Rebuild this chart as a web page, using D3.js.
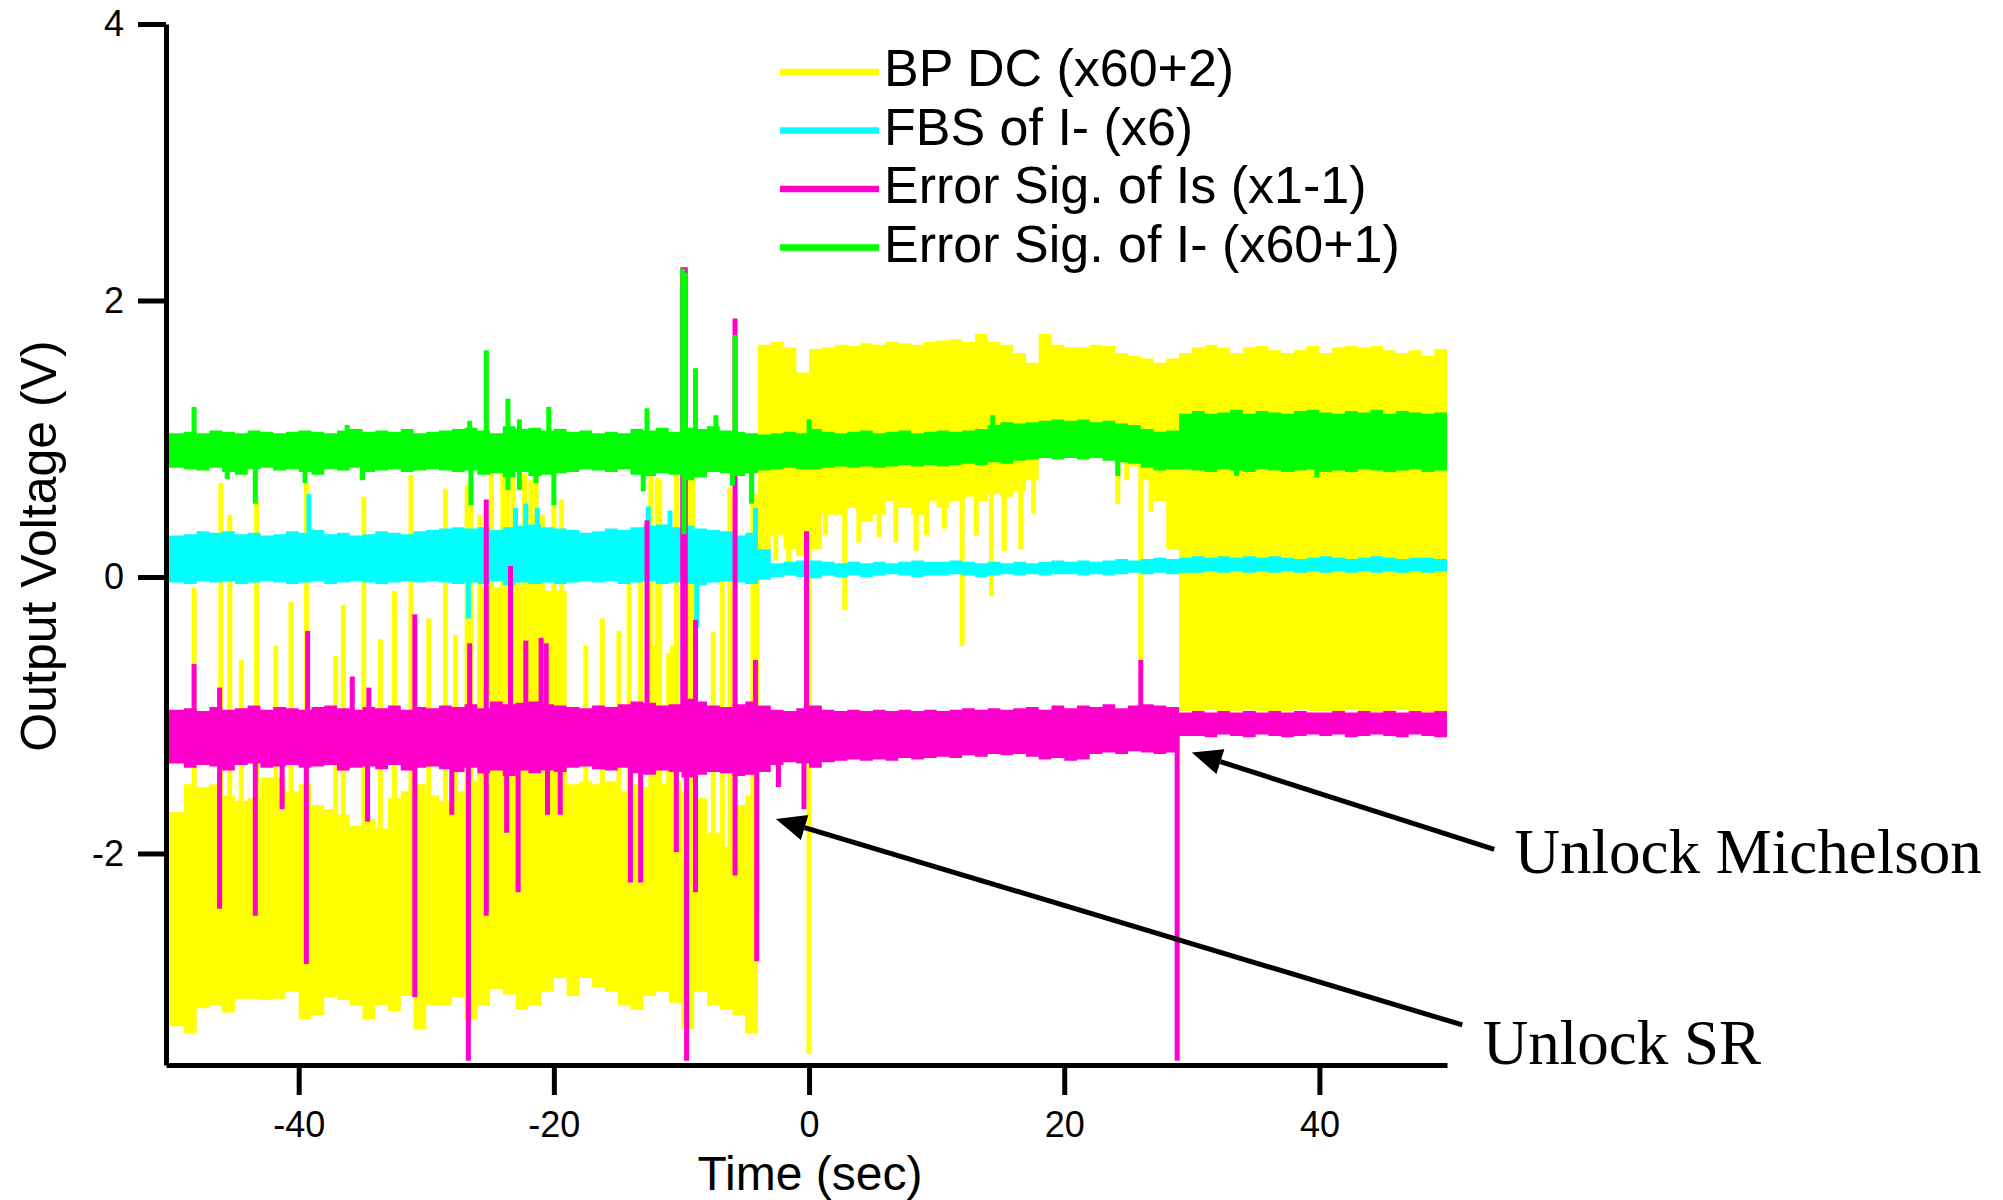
<!DOCTYPE html>
<html>
<head>
<meta charset="utf-8">
<script src="https://cdn.jsdelivr.net/npm/d3@7"></script>
<style>
  body { margin: 0; background: #fff; }
  svg { display: block; }
</style>
</head>
<body>
<svg id="chart" width="2003" height="1200"></svg>
<script>
// one-second bins, start time of each bin (sec)
var bins = d3.range(-50, 50, 1);

// BP DC (x60+2) envelope
var bpHi = [-1.7,-1.5,-1.52,-1.5,-1.58,-1.62,-1.6,-1.45,-1.45,-1.55,
  -1.5,-1.65,-1.68,-1.72,-1.8,-1.75,-1.82,-1.6,-1.55,-1.5,
  -1.58,-1.62,-1.55,-1.48,-0.08,-0.08,-0.06,-0.05,-0.05,-0.1,
  -0.1,-1.5,-1.48,-1.5,-1.48,-1.55,-1.5,-1.52,-1.5,-1.48,
  -1.55,-1.6,-1.85,-1.95,-1.65,-1.58,1.68,1.7,1.66,1.48,
  1.65,1.66,1.68,1.67,1.69,1.68,1.7,1.69,1.68,1.7,
  1.71,1.72,1.7,1.76,1.7,1.68,1.62,1.55,1.76,1.68,
  1.66,1.66,1.68,1.67,1.62,1.6,1.58,1.55,1.58,1.62,
  1.66,1.68,1.66,1.62,1.66,1.67,1.64,1.62,1.64,1.67,
  1.62,1.66,1.67,1.66,1.67,1.64,1.62,1.64,1.6,1.65];
var bpLo = [-3.25,-3.3,-3.12,-3.1,-3.15,-3.05,-3.05,-3.06,-3.05,-3.0,
  -3.2,-3.17,-3.04,-3.06,-3.1,-3.2,-3.1,-3.14,-3.03,-3.27,
  -3.1,-3.1,-3.04,-3.2,-3.1,-2.98,-3.02,-3.13,-3.1,-3.0,
  -2.9,-3.03,-2.9,-2.97,-3.0,-3.1,-3.13,-3.03,-3.0,-3.08,
  -3.27,-3.0,-3.1,-3.13,-3.17,-3.3,0.15,0.3,0.2,0.15,
  0.2,0.45,0.45,0.5,0.4,0.45,0.55,0.5,0.45,0.55,
  0.5,0.55,0.58,0.55,0.6,0.58,0.62,0.7,0.88,0.88,
  0.88,0.88,0.88,0.88,0.88,0.8,0.7,0.55,0.2,-0.97,
  -0.97,-0.96,-0.98,-0.97,-0.96,-0.97,-0.98,-0.97,-0.96,-0.97,
  -0.97,-0.98,-0.96,-0.97,-0.98,-0.97,-0.96,-0.97,-0.98,-0.97];
// [time, extreme value] of single-sample excursions
var bpSpikes = [[-48.2,-0.08],[-46.1,0.68],[-45.4,0.45],[-44.5,-0.6],[-43.3,0.55],
  [-41.8,-0.5],[-40.6,-0.18],[-39.4,0.68],[-37.1,-0.57],[-36.5,-0.2],[-34.9,0.58],
  [-33.6,-0.45],[-32.5,-0.1],[-31.2,0.74],[-29.8,-0.3],[-28.5,0.64],
  [-27.7,-0.42],[-26.8,0.66],[-26.5,0.6],[-25.8,0.45],[-24.9,0.75],[-24.0,0.75],
  [-23.6,0.72],[-23.2,0.75],[-22.3,0.75],[-21.8,0.7],[-21.4,0.74],[-20.9,0.45],
  [-20.0,0.56],[-19.4,0.56],[-17.5,-0.5],[-16.2,-0.3],[-14.9,-0.39],[-14.1,-0.05],
  [-13.2,-0.02],[-12.4,0.75],[-12.2,-0.5],[-11.9,0.72],[-11.7,0.7],[-11.0,-0.55],
  [-10.7,-0.5],[-10.4,0.74],[-9.4,0.7],[-9.1,0.74],[-7.5,-0.4],[-6.8,0.2],
  [-6.2,0.65],[-5.8,0.6],[-4.4,0.53],[-4.1,0.6],
  [-2.6,0.12],[-1.6,0.1],[0.0,-3.45],[1.3,0.3],[2.8,-0.24],[3.9,0.25],[5.5,0.29],
  [6.8,0.25],[8.4,0.19],[9.2,0.3],[10.6,0.35],[12.0,-0.5],[13.1,0.3],[14.3,-0.14],
  [15.3,0.19],[16.6,0.2],[17.6,0.46],[24.2,0.53],[24.9,0.7],[26.0,-0.6],[26.8,0.47]];

// FBS of I- (x6)
var fbsHi = [0.30,0.31,0.33,0.32,0.33,0.31,0.32,0.30,0.31,0.33,
  0.32,0.34,0.31,0.32,0.30,0.31,0.33,0.32,0.31,0.33,
  0.34,0.35,0.36,0.35,0.36,0.34,0.36,0.37,0.38,0.36,
  0.35,0.34,0.32,0.33,0.35,0.34,0.36,0.37,0.38,0.36,
  0.37,0.35,0.34,0.33,0.30,0.32,0.2,0.10,0.11,0.12,
  0.12,0.11,0.10,0.11,0.10,0.11,0.10,0.11,0.12,0.11,
  0.11,0.12,0.11,0.10,0.11,0.10,0.11,0.10,0.11,0.12,
  0.11,0.12,0.11,0.12,0.13,0.12,0.13,0.14,0.13,0.14,
  0.15,0.14,0.15,0.14,0.15,0.14,0.15,0.14,0.13,0.14,
  0.15,0.14,0.13,0.14,0.15,0.14,0.13,0.14,0.14,0.13];
var fbsLo = [-0.04,-0.05,-0.03,-0.04,-0.03,-0.05,-0.04,-0.03,-0.04,-0.05,
  -0.04,-0.03,-0.05,-0.04,-0.03,-0.04,-0.05,-0.04,-0.03,-0.04,
  -0.03,-0.04,-0.05,-0.04,-0.05,-0.03,-0.06,-0.04,-0.05,-0.04,
  -0.05,-0.04,-0.03,-0.04,-0.03,-0.05,-0.04,-0.03,-0.05,-0.04,
  -0.05,-0.06,-0.04,-0.03,-0.04,-0.05,-0.02,0.0,0.01,0.0,
  -0.01,0.01,0.0,0.01,0.0,0.01,0.02,0.01,0.0,0.01,
  0.01,0.02,0.01,0.0,0.01,0.02,0.01,0.02,0.01,0.02,
  0.02,0.01,0.02,0.01,0.02,0.03,0.02,0.03,0.02,0.03,
  0.03,0.04,0.03,0.04,0.03,0.04,0.03,0.04,0.03,0.04,
  0.03,0.04,0.03,0.04,0.03,0.04,0.03,0.04,0.03,0.04];
var fbsSpikes = [[-39.2,0.6],[-26.7,-0.3],[-23.0,0.5],[-22.2,0.53],[-21.3,0.5],
  [-12.6,0.51],[-10.9,0.48],[-8.8,-0.37],[-4.2,0.5]];

// Error Sig. of Is (x1-1)
var errIsHi = [-0.96,-0.95,-0.97,-0.94,-0.96,-0.95,-0.93,-0.96,-0.94,-0.95,
  -0.96,-0.94,-0.93,-0.95,-0.96,-0.94,-0.95,-0.93,-0.96,-0.94,
  -0.95,-0.93,-0.94,-0.92,-0.95,-0.9,-0.92,-0.91,-0.9,-0.92,
  -0.93,-0.94,-0.95,-0.93,-0.94,-0.92,-0.9,-0.91,-0.93,-0.92,
  -0.88,-0.9,-0.93,-0.94,-0.92,-0.9,-0.93,-0.96,-0.97,-0.95,
  -0.93,-0.96,-0.97,-0.96,-0.97,-0.96,-0.97,-0.96,-0.97,-0.96,
  -0.97,-0.96,-0.95,-0.96,-0.95,-0.96,-0.95,-0.94,-0.96,-0.93,
  -0.95,-0.93,-0.94,-0.92,-0.95,-0.93,-0.92,-0.93,-0.94,-0.98,
  -0.97,-0.98,-0.97,-0.98,-0.97,-0.98,-0.97,-0.98,-0.97,-0.98,
  -0.98,-0.97,-0.98,-0.97,-0.98,-0.97,-0.98,-0.97,-0.98,-0.97];
var errIsLo = [-1.35,-1.38,-1.36,-1.37,-1.4,-1.36,-1.35,-1.38,-1.37,-1.36,
  -1.38,-1.37,-1.36,-1.4,-1.38,-1.37,-1.39,-1.36,-1.4,-1.38,
  -1.37,-1.39,-1.41,-1.38,-1.42,-1.4,-1.44,-1.4,-1.42,-1.4,
  -1.41,-1.38,-1.37,-1.39,-1.4,-1.38,-1.42,-1.43,-1.4,-1.41,
  -1.45,-1.43,-1.41,-1.42,-1.44,-1.43,-1.41,-1.36,-1.34,-1.35,
  -1.38,-1.34,-1.33,-1.32,-1.33,-1.32,-1.33,-1.31,-1.32,-1.31,
  -1.3,-1.31,-1.29,-1.3,-1.28,-1.29,-1.28,-1.3,-1.32,-1.31,
  -1.33,-1.32,-1.28,-1.27,-1.28,-1.26,-1.27,-1.28,-1.27,-1.15,
  -1.15,-1.16,-1.14,-1.15,-1.16,-1.14,-1.15,-1.16,-1.15,-1.14,
  -1.15,-1.14,-1.16,-1.15,-1.14,-1.15,-1.16,-1.14,-1.15,-1.16];
var errIsSpikes = [[-48.2,-0.63],[-46.2,-0.8],[-39.3,-0.39],[-35.8,-0.72],[-34.5,-0.8],
  [-30.9,-0.27],[-26.6,-0.48],[-25.3,0.56],[-23.4,0.08],[-22.2,-0.46],[-21.0,-0.44],
  [-20.6,-0.48],[-12.7,0.41],[-9.9,2.24],[-9.7,2.24],[-8.9,-0.31],[-5.8,1.87],
  [-4.2,-0.6],[-0.2,0.33],[26.0,-0.6],
  [-46.2,-2.40],[-43.4,-2.45],[-41.3,-1.68],[-39.4,-2.80],[-34.6,-1.77],[-30.9,-3.04],
  [-28.0,-1.72],[-26.7,-3.5],[-25.3,-2.45],[-23.7,-1.85],[-22.8,-2.28],[-20.5,-1.72],
  [-19.5,-1.72],[-14.0,-2.21],[-13.2,-2.21],[-10.4,-1.99],[-9.6,-3.5],[-8.9,-2.28],
  [-5.8,-2.16],[-4.1,-2.78],[-2.4,-1.52],[-0.4,-1.68],[28.85,-3.5]];

// Error Sig. of I- (x60+1)
var errImHi = [1.04,1.05,1.04,1.06,1.05,1.04,1.06,1.05,1.04,1.05,
  1.06,1.05,1.04,1.06,1.07,1.05,1.06,1.05,1.07,1.04,
  1.05,1.06,1.07,1.08,1.06,1.04,1.09,1.07,1.08,1.06,
  1.07,1.05,1.06,1.04,1.05,1.04,1.07,1.06,1.08,1.05,
  1.08,1.07,1.09,1.06,1.05,1.04,1.03,1.04,1.05,1.04,
  1.07,1.05,1.04,1.05,1.06,1.04,1.05,1.06,1.04,1.05,
  1.06,1.05,1.06,1.07,1.10,1.12,1.11,1.12,1.13,1.14,
  1.13,1.14,1.12,1.13,1.11,1.10,1.07,1.05,1.06,1.18,
  1.20,1.18,1.19,1.21,1.18,1.2,1.19,1.18,1.2,1.21,
  1.19,1.18,1.2,1.19,1.21,1.18,1.2,1.19,1.18,1.19];
var errImLo = [0.79,0.78,0.77,0.79,0.76,0.74,0.78,0.79,0.77,0.78,
  0.76,0.74,0.78,0.77,0.79,0.76,0.77,0.78,0.76,0.77,
  0.78,0.77,0.76,0.77,0.74,0.75,0.72,0.76,0.73,0.74,
  0.75,0.76,0.78,0.77,0.76,0.78,0.74,0.73,0.75,0.74,
  0.70,0.72,0.76,0.75,0.73,0.75,0.77,0.78,0.79,0.78,
  0.78,0.79,0.8,0.79,0.8,0.79,0.8,0.81,0.8,0.81,
  0.8,0.81,0.82,0.81,0.83,0.82,0.84,0.85,0.86,0.85,
  0.86,0.85,0.86,0.84,0.83,0.82,0.79,0.77,0.78,0.78,
  0.77,0.76,0.78,0.77,0.76,0.78,0.77,0.76,0.77,0.78,
  0.76,0.77,0.76,0.78,0.77,0.76,0.77,0.78,0.76,0.77];
var errImSpikes = [[-48.2,1.23],[-36.2,1.1],[-26.6,1.13],[-25.3,1.64],[-23.6,1.29],
  [-22.7,1.14],[-20.4,1.23],[-12.7,1.22],[-9.9,2.23],[-9.7,2.2],[-8.9,1.51],
  [-7.3,1.17],[-5.8,1.75],[0.0,1.14],[14.4,1.17],
  [-45.6,0.71],[-43.4,0.53],[-39.5,0.68],[-35.0,0.7],[-26.5,0.52],[-23.6,0.63],
  [-22.7,0.63],[-21.4,0.68],[-20.0,0.52],[-13.0,0.62],[-9.8,0.31],[-6.0,0.66],
  [-4.5,0.53],[24.2,0.73],[33.5,0.73],[39.8,0.72]];

var legendLabels = ["BP DC (x60+2)", "FBS of I- (x6)", "Error Sig. of Is (x1-1)", "Error Sig. of I- (x60+1)"];
var colors = ["#ffff00", "#00ffff", "#ff00cc", "#00ff00"];
var xTicks = [-40, -20, 0, 20, 40];
var yTicks = [-2, 0, 2, 4];

var sans = "'Liberation Sans', Arial, sans-serif";
var serif = "'Liberation Serif', 'Times New Roman', serif";

var svg = d3.select("#chart");
var x = d3.scaleLinear().domain([-50.4, 50]).range([166, 1447]);
var y = d3.scaleLinear().domain([-3.53, 4]).range([1065, 24]);

var plot = svg.append("g");

function drawSeries(lo, hi, spikes, color) {
  var g = plot.append("g");
  var rows = bins.map(function(t, i) { return {t: t, lo: lo[i], hi: hi[i]}; });
  rows.push({t: 50, lo: lo[lo.length - 1], hi: hi[hi.length - 1]});
  var area = d3.area()
    .curve(d3.curveStepAfter)
    .x(function(d, i) { return i == 0 ? x.range()[0] : x(d.t); })
    .y0(function(d) { return y(d.lo); })
    .y1(function(d) { return y(d.hi); });
  g.append("path").attr("d", area(rows)).attr("fill", color);

  g.selectAll("line")
    .data(spikes)
    .enter()
    .append("line")
    .attr("x1", function(d) { return x(d[0]); })
    .attr("x2", function(d) { return x(d[0]); })
    .attr("y1", function(d) {
      var i = Math.max(0, Math.min(bins.length - 1, Math.floor(d[0]) + 50));
      return y((lo[i] + hi[i]) / 2);
    })
    .attr("y2", function(d) { return y(d[1]); })
    .attr("stroke", color)
    .attr("stroke-width", 5);
}

drawSeries(bpLo, bpHi, bpSpikes, colors[0]);
drawSeries(fbsLo, fbsHi, fbsSpikes, colors[1]);
drawSeries(errIsLo, errIsHi, errIsSpikes, colors[2]);
drawSeries(errImLo, errImHi, errImSpikes, colors[3]);

// axes
var yAxis = d3.axisLeft(y).tickValues(yTicks).tickSize(28).tickSizeOuter(0).tickPadding(14)
  .tickFormat(function(d) { return String(d); });
var gy = svg.append("g").attr("transform", "translate(166,0)").call(yAxis);

var xAxis = d3.axisBottom(x).tickValues(xTicks).tickSize(30).tickSizeOuter(0).tickPadding(16)
  .tickFormat(function(d) { return String(d); });
var gx = svg.append("g").attr("transform", "translate(0,1065)").call(xAxis);

[gx, gy].forEach(function(g) {
  g.select(".domain").attr("stroke", "#000").attr("stroke-width", 5);
  g.selectAll(".tick line").attr("stroke", "#000").attr("stroke-width", 5);
  g.selectAll(".tick text").attr("font-family", sans).attr("font-size", 36).attr("fill", "#000");
});

svg.append("text")
  .attr("x", 810).attr("y", 1190)
  .attr("text-anchor", "middle")
  .attr("font-family", sans).attr("font-size", 48)
  .text("Time (sec)");

svg.append("text")
  .attr("transform", "translate(56,546) rotate(-90)")
  .attr("text-anchor", "middle")
  .attr("font-family", sans).attr("font-size", 50)
  .text("Output Voltage (V)");

// legend
var legend = svg.append("g").attr("transform", "translate(780,72)");
legendLabels.forEach(function(label, i) {
  var row = legend.append("g").attr("transform", "translate(0," + (i * 58.5) + ")");
  row.append("line").attr("x1", 0).attr("x2", 99).attr("y1", 0).attr("y2", 0)
    .attr("stroke", colors[i]).attr("stroke-width", 6.5);
  row.append("text").attr("x", 104).attr("y", 14)
    .attr("font-family", sans).attr("font-size", 52)
    .text(label);
});

// annotations, in data units
var notes = [
  {text: "Unlock Michelson", tip: [30.0, -1.27], tail: [53.7, -1.97], at: [55.3, -2.14]},
  {text: "Unlock SR", tip: [-2.6, -1.75], tail: [51.2, -3.24], at: [52.8, -3.52]}
];
notes.forEach(function(n) {
  var tx = x(n.tip[0]), ty = y(n.tip[1]);
  var sx = x(n.tail[0]), sy = y(n.tail[1]);
  var len = Math.hypot(sx - tx, sy - ty);
  var ux = (sx - tx) / len, uy = (sy - ty) / len;
  var bx = tx + ux * 30, by = ty + uy * 30;
  svg.append("line")
    .attr("x1", sx).attr("y1", sy).attr("x2", bx).attr("y2", by)
    .attr("stroke", "#000").attr("stroke-width", 5);
  svg.append("path")
    .attr("d", "M" + tx + "," + ty +
      "L" + (bx - uy * 13) + "," + (by + ux * 13) +
      "L" + (bx + uy * 13) + "," + (by - ux * 13) + "Z")
    .attr("fill", "#000");
  svg.append("text")
    .attr("x", x(n.at[0])).attr("y", y(n.at[1]))
    .attr("font-family", serif).attr("font-size", 63)
    .text(n.text);
});
</script>
</body>
</html>
